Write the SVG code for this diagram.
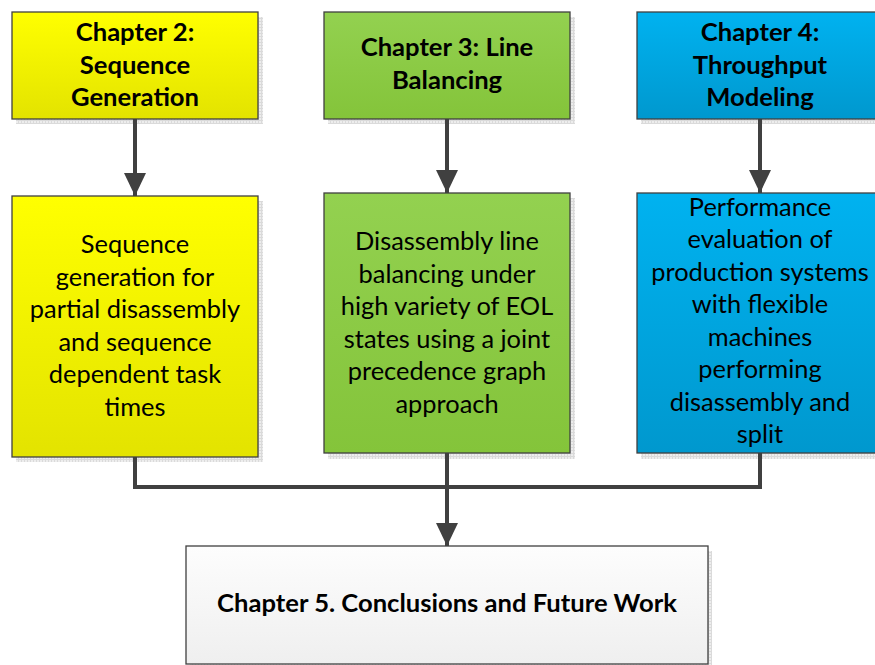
<svg xmlns="http://www.w3.org/2000/svg" width="875" height="665" viewBox="0 0 875 665">
  <defs>
    <linearGradient id="gYellow" x1="0" y1="0" x2="0" y2="1">
      <stop offset="0" stop-color="#FFFF00"/>
      <stop offset="1" stop-color="#E3E300"/>
    </linearGradient>
    <linearGradient id="gGreen" x1="0" y1="0" x2="0" y2="1">
      <stop offset="0" stop-color="#93D150"/>
      <stop offset="1" stop-color="#84C43A"/>
    </linearGradient>
    <linearGradient id="gBlue" x1="0" y1="0" x2="0" y2="1">
      <stop offset="0" stop-color="#00B2F0"/>
      <stop offset="1" stop-color="#0098CE"/>
    </linearGradient>
    <linearGradient id="gGray" x1="0" y1="0" x2="0" y2="1">
      <stop offset="0" stop-color="#FDFDFD"/>
      <stop offset="1" stop-color="#EFEFEF"/>
    </linearGradient>
    <pattern id="shadowGrid" width="3" height="3" patternUnits="userSpaceOnUse">
      <rect width="3" height="3" fill="#EDEDED"/>
      <path d="M0 0.5H3M0.5 0V3" stroke="#DADADA" stroke-width="1"/>
    </pattern>
    <marker id="arrow" markerUnits="userSpaceOnUse" markerWidth="24" markerHeight="24" refX="23" refY="12" orient="auto">
      <path d="M0 1L23 12L0 23Z" fill="#404040"/>
    </marker>
  </defs>
  <style>
    .box { stroke: #404040; stroke-width: 1.3; }
    .shadow { fill: url(#shadowGrid); }
    .title { font-family: Lato, "Liberation Sans", sans-serif; font-weight: bold; font-size: 25.6px; fill: #000; text-anchor: middle; }
    .body { font-family: Lato, "Liberation Sans", sans-serif; font-size: 25.4px; fill: #000; text-anchor: middle; }
    .conn { fill: none; stroke: #404040; stroke-width: 4; }
  </style>

  <!-- drop shadows -->
  <g id="shadows">
    <rect class="shadow" x="16" y="17" width="247" height="107"/>
    <rect class="shadow" x="328" y="17" width="247" height="107"/>
    <rect class="shadow" x="641" y="17" width="247" height="107"/>
    <rect class="shadow" x="16" y="201" width="247" height="261"/>
    <rect class="shadow" x="328" y="198" width="247" height="261"/>
    <rect class="shadow" x="641" y="198" width="247" height="261"/>
    <rect class="shadow" x="190" y="551" width="522" height="118"/>
  </g>

  <g id="connectors">
    <line class="conn" x1="135" y1="119" x2="135" y2="196" marker-end="url(#arrow)"/>
    <line class="conn" x1="447" y1="119" x2="447" y2="193" marker-end="url(#arrow)"/>
    <line class="conn" x1="760" y1="119" x2="760" y2="193" marker-end="url(#arrow)"/>
    <polyline class="conn" points="135,457 135,487 760,487 760,453"/>
    <line class="conn" x1="447" y1="453" x2="447" y2="546" marker-end="url(#arrow)"/>
  </g>

  <g id="ch2-title">
    <rect class="box" x="12" y="12" width="246" height="107" fill="url(#gYellow)"/>
    <text class="title" x="135" y="41">Chapter 2:</text>
    <text class="title" x="135" y="73.5">Sequence</text>
    <text class="title" x="135" y="106">Generation</text>
  </g>

  <g id="ch3-title">
    <rect class="box" x="324" y="12" width="246" height="107" fill="url(#gGreen)"/>
    <text class="title" x="447" y="56">Chapter 3: Line</text>
    <text class="title" x="447" y="88.5">Balancing</text>
  </g>

  <g id="ch4-title">
    <rect class="box" x="637" y="12" width="246" height="107" fill="url(#gBlue)"/>
    <text class="title" x="760" y="41">Chapter 4:</text>
    <text class="title" x="760" y="73.5">Throughput</text>
    <text class="title" x="760" y="106">Modeling</text>
  </g>

  <g id="ch2-body">
    <rect class="box" x="12" y="196" width="246" height="261" fill="url(#gYellow)"/>
    <text class="body" x="135" y="253">Sequence</text>
    <text class="body" x="135" y="285.5">generation for</text>
    <text class="body" x="135" y="318">partial disassembly</text>
    <text class="body" x="135" y="350.5">and sequence</text>
    <text class="body" x="135" y="383">dependent task</text>
    <text class="body" x="135" y="415.5">times</text>
  </g>

  <g id="ch3-body">
    <rect class="box" x="324" y="193" width="246" height="260" fill="url(#gGreen)"/>
    <text class="body" x="447" y="250">Disassembly line</text>
    <text class="body" x="447" y="282.5">balancing under</text>
    <text class="body" x="447" y="315">high variety of EOL</text>
    <text class="body" x="447" y="347.5">states using a joint</text>
    <text class="body" x="447" y="380">precedence graph</text>
    <text class="body" x="447" y="412.5">approach</text>
  </g>

  <g id="ch4-body">
    <rect class="box" x="637" y="193" width="246" height="260" fill="url(#gBlue)"/>
    <text class="body" x="760" y="215.5">Performance</text>
    <text class="body" x="760" y="248">evaluation of</text>
    <text class="body" x="760" y="280.5">production systems</text>
    <text class="body" x="760" y="313">with flexible</text>
    <text class="body" x="760" y="345.5">machines</text>
    <text class="body" x="760" y="378">performing</text>
    <text class="body" x="760" y="410.5">disassembly and</text>
    <text class="body" x="760" y="443">split</text>
  </g>

  <g id="ch5">
    <rect class="box" x="186" y="546" width="522" height="118" fill="url(#gGray)" stroke="#606060"/>
    <text class="title" x="447" y="612">Chapter 5. Conclusions and Future Work</text>
  </g>
</svg>
